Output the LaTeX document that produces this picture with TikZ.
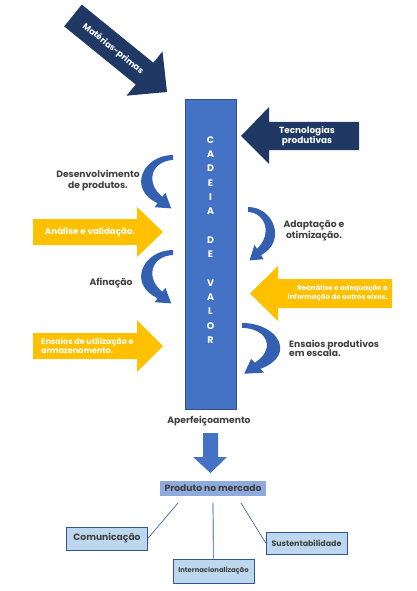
\documentclass[tikz,border=0pt]{standalone}
\usepackage{fontspec}
\setmainfont{Poppins}
\definecolor{navy}{RGB}{31,56,100}
\definecolor{rectblue}{RGB}{68,114,196}
\definecolor{rectedge}{RGB}{47,82,143}
\definecolor{bendblue}{RGB}{52,96,178}
\definecolor{gold}{RGB}{255,192,0}
\definecolor{txtgray}{RGB}{64,64,64}
\definecolor{prodblue}{RGB}{143,170,220}
\definecolor{boxblue}{RGB}{189,215,238}
\definecolor{linkblue}{RGB}{47,85,151}
\tikzset{
  bendarrow/.pic={
    \fill[bendblue] (0,0) .. controls (-30,0) and (-46,34) .. (-15.4,48.2)
      -- (-18.4,52.2) -- (-1.8,53.4) -- (-7.6,37.8) -- (-10.6,41.8)
      .. controls (-28,28) and (-22,6) .. (0,5) -- cycle;
  }
}

\begin{document}
\begin{tikzpicture}[x=1pt,y=-1pt,
  every node/.style={font=\bfseries\fontsize{9.2}{10.8}\selectfont},
  lbl/.style={text=txtgray,align=center,inner sep=0pt},
  inarrow/.style={text=white,align=center,inner sep=0pt},
  letter/.style={text=white,inner sep=0pt,font=\bfseries\fontsize{9.5}{10}\selectfont},
  subbox/.style={draw=linkblue,fill=boxblue,line width=0.6pt,
    minimum width=81pt,text=txtgray,inner sep=0pt}]
  \useasboundingbox (0,0) rectangle (417,591);

  % entradas escuras
  \fill[navy] (81.8,4.6) -- (153.3,62.7) -- (162.5,51.5) -- (167,92)
    -- (126.5,95.7) -- (135.7,84.5) -- (64.2,26.4) -- cycle;
  \node[inarrow,rotate=-39,font=\bfseries\fontsize{8.5}{10}\selectfont]
    (materias) at (113,49) {Matérias-primas};
  \fill[navy] (359,122) -- (269,122) -- (269,107) -- (241,136)
    -- (269,164) -- (269,150) -- (359,150) -- cycle;
  \node[inarrow,font=\bfseries\fontsize{8.9}{10}\selectfont]
    (tecno) at (307,136) {Tecnologias\\produtivas};

  % cadeia de valor
  \node[draw=rectedge,fill=rectblue,line width=0.8pt,minimum width=51pt,
    minimum height=310pt,inner sep=0pt] (cadeia) at (210.5,254) {};
  \foreach \l [count=\i] in {C,A,D,E,I,A,{},D,E,{},V,A,L,O,R}
    \node[letter] (l\i) at (210.5,{140+14.3*(\i-1)}) {\l};

  % setas amarelas
  \fill[gold] (33,219) -- (137,219) -- (137,207) -- (163,232)
    -- (137,257) -- (137,245) -- (33,245) -- cycle;
  \node[inarrow,font=\bfseries\fontsize{8.7}{10}\selectfont]
    (analise) at (90,232) {Análise e validação.};
  \fill[gold] (392,279) -- (278,279) -- (278,266) -- (250,293.5)
    -- (278,321) -- (278,308) -- (392,308) -- cycle;
  \node[inarrow,align=right,anchor=east,font=\bfseries\fontsize{7}{9}\selectfont]
    (reanalise) at (388,293.5) {Reanálise e adequação a\\informação de outros eixos.};
  \fill[gold] (33,333) -- (137,333) -- (137,320) -- (163,346)
    -- (137,372) -- (137,359) -- (33,359) -- cycle;
  \node[inarrow,align=left,anchor=west,font=\bfseries\fontsize{8}{9}\selectfont]
    (ensuso) at (41,346) {Ensaios de utilização e\\armazenamento.};

  % setas curvas
  \pic at (173,155) {bendarrow};
  \pic at (173,250) {bendarrow};
  \pic[xscale=-0.85] at (248,207) {bendarrow};
  \pic[xscale=-1.2,yscale=0.95] at (242,323) {bendarrow};
  \node[lbl] (desenv) at (98,180.5) {Desenvolvimento\\de produtos.};
  \node[lbl] (adapt) at (314,231) {Adaptação e\\otimização.};
  \node[lbl] (afin) at (111,283) {Afinação};
  \node[lbl,align=left,anchor=west,font=\bfseries\fontsize{9.2}{9.5}\selectfont]
    (ensprod) at (289,348.5) {Ensaios produtivos\\em escala.};

  % saida
  \node[lbl] (aperf) at (209,421) {Aperfeiçoamento};
  \fill[rectblue] (203,433) -- (218,433) -- (218,457) -- (227,457)
    -- (210.5,473) -- (193,457) -- (203,457) -- cycle;
  \node[fill=prodblue,minimum width=106pt,minimum height=15pt,inner sep=0pt,
    text=txtgray] (prod) at (213,488.5) {Produto no mercado};
  \node[subbox,minimum height=23pt] (com) at (107,538.5) {Comunicação};
  \node[subbox,minimum height=24pt,font=\bfseries\fontsize{6.8}{8}\selectfont]
    (inter) at (213.5,571) {Internacionalização};
  \node[subbox,minimum height=22pt,font=\bfseries\fontsize{7.9}{9}\selectfont]
    (sus) at (306.5,543) {Sustentabilidade};
  \coordinate (p1) at (178,503);
  \coordinate (p2) at (213,503);
  \coordinate (p3) at (241,503);
  \draw[linkblue,line width=0.6pt] (p1) -- (com.east);
  \draw[prodblue!80!linkblue,line width=1.2pt] (p2) -- (inter.north);
  \draw[linkblue,line width=0.6pt] (p3) -- (sus.west);
\end{tikzpicture}
\end{document}
